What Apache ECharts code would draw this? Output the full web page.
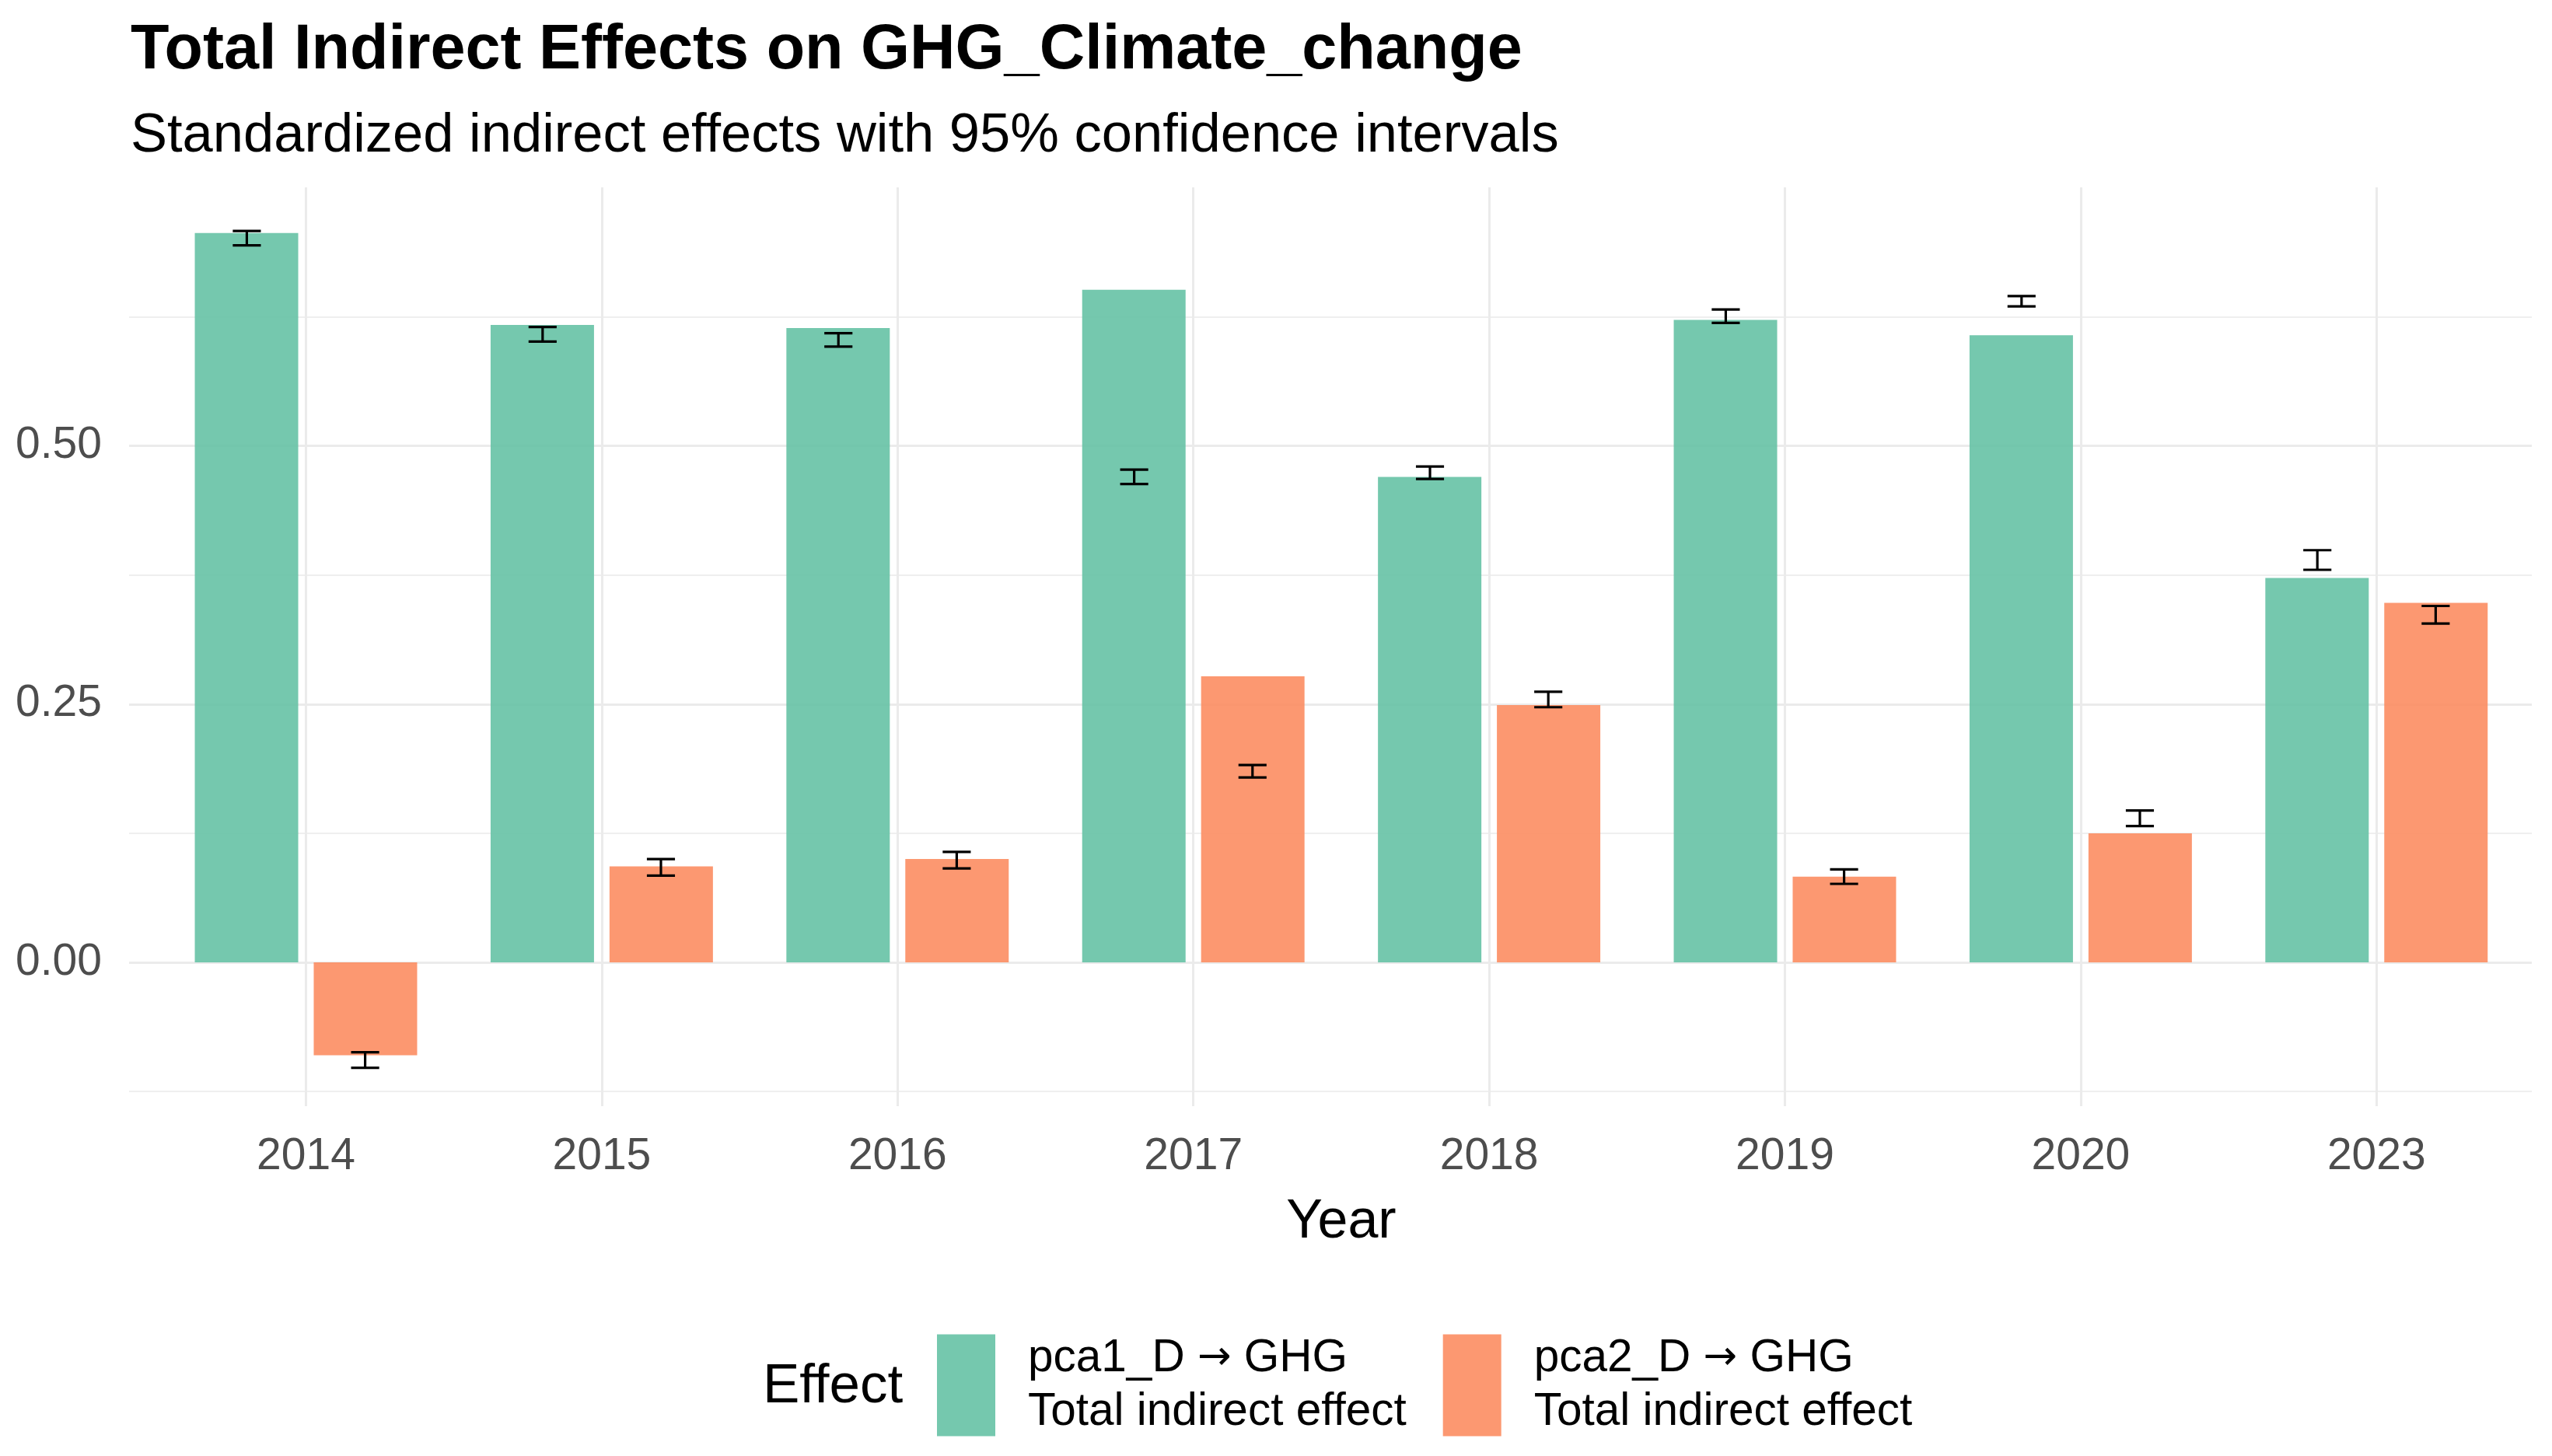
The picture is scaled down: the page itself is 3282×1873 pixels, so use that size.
<!DOCTYPE html>
<html><head><meta charset="utf-8">
<script src="https://cdn.jsdelivr.net/npm/echarts@6/dist/echarts.min.js"></script>
<style>html,body{margin:0;padding:0;background:#fff}#c{width:3282px;height:1873px}</style>
</head><body><div id="c"></div><script>
// ---- data ----
const years = ['2014','2015','2016','2017','2018','2019','2020','2023'];
const seriesNames = ['pca1_D \u2192 GHG\nTotal indirect effect', 'pca2_D \u2192 GHG\nTotal indirect effect'];
const pca1 = [0.706, 0.617, 0.614, 0.651, 0.470, 0.622, 0.607, 0.372];
const pca1Lo = [0.694, 0.601, 0.596, 0.463, 0.468, 0.619, 0.635, 0.380];
const pca1Hi = [0.708, 0.615, 0.609, 0.477, 0.480, 0.632, 0.645, 0.399];
const pca2 = [-0.090, 0.093, 0.100, 0.277, 0.249, 0.083, 0.125, 0.348];
const pca2Lo = [-0.102, 0.084, 0.091, 0.179, 0.247, 0.076, 0.132, 0.328];
const pca2Hi = [-0.087, 0.100, 0.107, 0.191, 0.262, 0.090, 0.147, 0.345];
const yMajorTicks = [0, 0.25, 0.5];
const yMinorTicks = [-0.125, 0.125, 0.375, 0.625];
const xGridTicks = [0, 1, 2, 3, 4, 5, 6, 7];

// ---- chart ----
const FONT = '"Liberation Sans", Arial, sans-serif';
const yMin = -0.1392, yMax = 0.7502;
const chart = echarts.init(document.getElementById('c'), null, {renderer: 'canvas'});

function makeEB(sign) {
  return function (params, api) {
    const i = api.value(0), lo = api.value(1), hi = api.value(2);
    const band = api.size([1, 0])[0];
    const p1 = api.coord([i, lo]), p2 = api.coord([i, hi]);
    const x = p1[0] + sign * 0.2 * band;
    const cw = 0.0475 * band;
    const style = {stroke: '#000', lineWidth: 3.2, fill: null};
    return {type: 'group', children: [
      {type: 'line', shape: {x1: x, y1: p1[1], x2: x, y2: p2[1]}, style: style},
      {type: 'line', shape: {x1: x - cw, y1: p1[1], x2: x + cw, y2: p1[1]}, style: style},
      {type: 'line', shape: {x1: x - cw, y1: p2[1], x2: x + cw, y2: p2[1]}, style: style}
    ]};
  };
}

const option = {
  backgroundColor: '#fff',
  animation: false,
  title: [
    {text: 'Total Indirect Effects on GHG_Climate_change', left: 168, top: 25, padding: 0,
     textStyle: {fontFamily: FONT, fontSize: 81, fontWeight: 'bold', color: '#000'}},
    {text: 'Standardized indirect effects with 95% confidence intervals', left: 168, top: 140, padding: 0,
     textStyle: {fontFamily: FONT, fontSize: 70.5, fontWeight: 'normal', color: '#000'}}
  ],
  grid: [
    {left: 166, right: 26, top: 241, bottom: 450},
    {left: 203.3, width: 3043.2, top: 241, bottom: 450}
  ],
  xAxis: [
    {gridIndex: 0, type: 'value', min: -0.598, max: 7.525,
     axisLine: {show: false}, axisTick: {show: false, customValues: xGridTicks}, axisLabel: {show: false},
     splitLine: {show: true, lineStyle: {color: '#EBEBEB', width: 3}}},
    {gridIndex: 1, type: 'category', data: years,
     axisLine: {show: false}, axisTick: {show: false}, splitLine: {show: false},
     axisLabel: {fontFamily: FONT, fontSize: 57, color: '#4D4D4D', margin: 37},
     name: 'Year', nameLocation: 'middle', nameGap: 115,
     nameTextStyle: {fontFamily: FONT, fontSize: 70, color: '#000'}}
  ],
  yAxis: [
    {gridIndex: 0, type: 'value', min: yMin, max: yMax,
     axisLine: {show: false}, axisTick: {show: false, customValues: yMajorTicks},
     axisLabel: {customValues: yMajorTicks, formatter: v => Number(v).toFixed(2),
                 fontFamily: FONT, fontSize: 57, color: '#4D4D4D', margin: 35},
     splitLine: {show: true, lineStyle: {color: '#EBEBEB', width: 3}}},
    {gridIndex: 0, type: 'value', min: yMin, max: yMax, position: 'left',
     axisLine: {show: false}, axisTick: {show: false, customValues: yMinorTicks},
     axisLabel: {show: false},
     splitLine: {show: true, lineStyle: {color: '#EFEFEF', width: 2}}},
    {gridIndex: 1, type: 'value', min: yMin, max: yMax, show: false, splitLine: {show: false}}
  ],
  legend: {
    data: seriesNames, left: 1205, top: 1713, padding: 0, orient: 'horizontal',
    itemWidth: 75, itemHeight: 131, itemGap: 47, icon: 'rect',
    formatter: name => name.replace('\u2192', '{a|\u2192}'),
    textStyle: {fontFamily: FONT, fontSize: 58.5, lineHeight: 69, color: '#000', padding: [0, 0, 0, 37],
      rich: {a: {fontFamily: '"DejaVu Sans", sans-serif', fontSize: 52, lineHeight: 69, color: '#000'}}}
  },
  graphic: [
    {type: 'text', left: 981, top: 1749,
     style: {text: 'Effect', font: '71px ' + FONT, fill: '#000'}}
  ],
  series: [
    {name: seriesNames[0], type: 'bar', xAxisIndex: 1, yAxisIndex: 2, data: pca1,
     barWidth: 133, barGap: '15%', itemStyle: {color: '#66C2A5', opacity: 0.9}},
    {name: seriesNames[1], type: 'bar', xAxisIndex: 1, yAxisIndex: 2, data: pca2,
     barWidth: 133, barGap: '15%', itemStyle: {color: '#FC8D62', opacity: 0.9}},
    {name: 'eb1', type: 'custom', xAxisIndex: 1, yAxisIndex: 2, renderItem: makeEB(-1),
     encode: {x: 0, y: [1, 2]}, z: 5,
     data: years.map((y, i) => [i, pca1Lo[i], pca1Hi[i]])},
    {name: 'eb2', type: 'custom', xAxisIndex: 1, yAxisIndex: 2, renderItem: makeEB(1),
     encode: {x: 0, y: [1, 2]}, z: 5,
     data: years.map((y, i) => [i, pca2Lo[i], pca2Hi[i]])}
  ]
};
chart.setOption(option);
</script></body></html>
